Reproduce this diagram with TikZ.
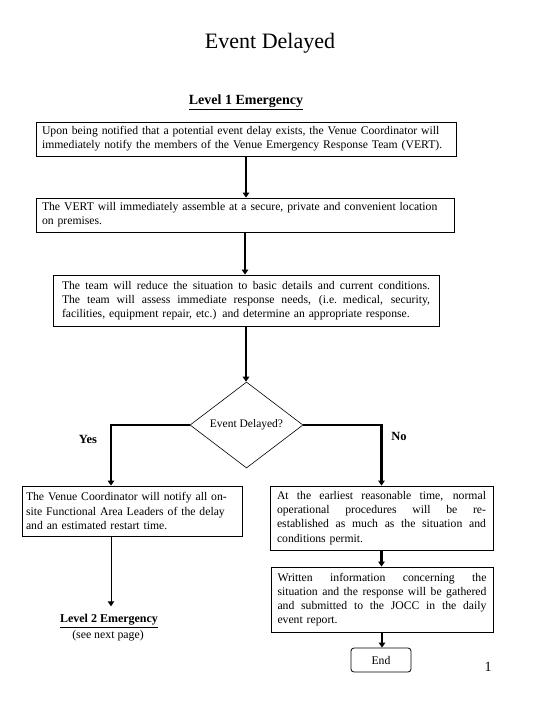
\documentclass[tikz,border=0pt]{standalone}
\usepackage{fontspec}
\setmainfont{Liberation Serif}
\usetikzlibrary{arrows.meta,shapes.geometric}
\newcommand{\jl}[2]{\leavevmode\hbox to #1{\spaceskip=\fontdimen2\font plus 1fil\relax #2}}
\begin{document}
\begin{tikzpicture}[x=1pt,y=-1pt,
  box/.style={draw,line width=0.8pt,inner xsep=0pt,inner ysep=0pt,align=left,
    font=\fontsize{11.7}{14.2}\selectfont},
  arr/.style={line width=2.4pt,-{Triangle[length=5pt,width=6.5pt]}},
  thinarr/.style={line width=0.9pt,-{Triangle[length=5pt,width=6.5pt]}},
  lbl/.style={font=\fontsize{12.5}{14}\selectfont\bfseries,inner sep=0pt}]
\useasboundingbox (0,0) rectangle (540,720);

\node[inner sep=0pt,font=\fontsize{22}{26}\selectfont] (title) at (270,43) {Event Delayed};
\node[font=\fontsize{14}{16}\selectfont\bfseries,inner sep=0pt] (lev1) at (246,102) {\underline{Level 1 Emergency}};

\node[box,minimum width=420pt,minimum height=34pt,text width=408pt] (b1) at (246,139)
 {Upon being notified that a potential event delay exists, the Venue Coordinator will\\
  immediately notify the members of the Venue Emergency Response Team (VERT).};

\node[box,minimum width=418pt,minimum height=34pt,text width=406pt] (b2) at (245,215)
 {The VERT will immediately assemble at a secure, private and convenient location\\
  on premises.};

\node[box,minimum width=386pt,minimum height=51pt,text width=368pt] (b3) at (246,300.5)
 {\jl{368pt}{The team will reduce the situation to basic details and current conditions.}\\
  \jl{368pt}{The team will assess immediate response needs, (i.e. medical, security,}\\
  facilities, equipment repair, etc.) and determine an appropriate response.};

\node[draw,line width=0.6pt,shape=diamond,minimum width=113pt,minimum height=86pt,inner sep=0pt,
  font=\fontsize{11.5}{13}\selectfont] (dia) at (246.5,425) {Event Delayed?};

\node[lbl] (yes) at (88,439) {Yes};
\node[lbl] (no) at (399,436) {No};

\node[box,minimum width=220pt,minimum height=50pt,text width=212pt] (b4) at (132,511)
 {The Venue Coordinator will notify all on-\\
  site Functional Area Leaders of the delay\\
  and an estimated restart time.};

\node[box,minimum width=223pt,minimum height=64pt,text width=209pt] (b5) at (381.5,518)
 {\jl{209pt}{At the earliest reasonable time, normal}\\
  \jl{209pt}{operational procedures will be re-}\\
  \jl{209pt}{established as much as the situation and}\\
  conditions permit.};

\node[box,minimum width=222pt,minimum height=65pt,text width=209pt] (b6) at (382,599.5)
 {\jl{209pt}{Written information concerning the}\\
  \jl{209pt}{situation and the response will be gathered}\\
  \jl{209pt}{and submitted to the JOCC in the daily}\\
  event report.};

\node[draw,line width=0.8pt,rounded corners=3pt,minimum width=60pt,minimum height=24pt,inner sep=0pt,
  font=\fontsize{11.7}{14}\selectfont] (end) at (381,660) {End};

\node[font=\fontsize{12}{14}\selectfont\bfseries,inner sep=0pt] (lev2) at (109,621) {\underline{Level 2 Emergency}};
\node[font=\fontsize{11.8}{14}\selectfont,inner sep=0pt] (next) at (108,636) {(see next page)};

\node[font=\fontsize{14}{16}\selectfont,inner sep=0pt] (pg) at (488,667) {1};

\draw[arr] (b1.south) -- (b1.south |- b2.north);
\draw[arr] (b2.south) -- (b2.south |- b3.north);
\draw[arr] (b3.south) -- (b3.south |- dia.north);
\draw[arr] (dia.west) -| ([xshift=-21pt]b4.north);
\draw[arr] (dia.east) -| (b5.north);
\draw[arr] (b5.south) -- (b5.south |- b6.north);
\draw[arr] (b6.south) -- (b6.south |- end.north);
\draw[thinarr,shorten >=8pt] ([xshift=-21pt]b4.south) -- ([xshift=-21pt]b4.south |- lev2.north);
\end{tikzpicture}
\end{document}
